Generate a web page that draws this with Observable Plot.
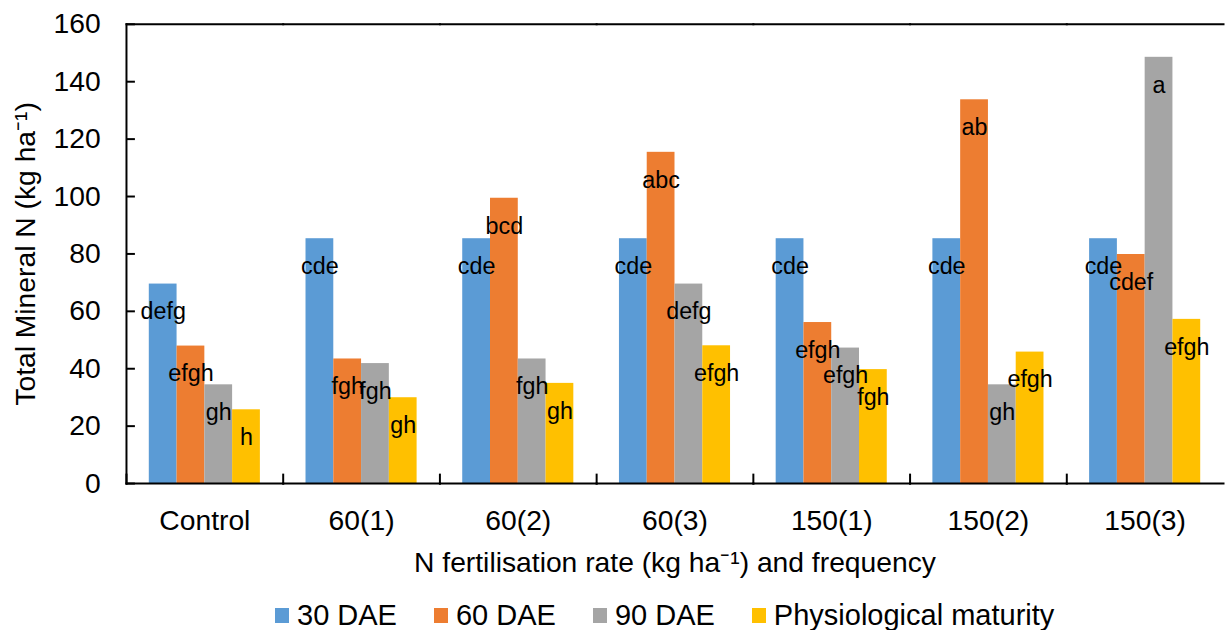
<!DOCTYPE html>
<html>
<head>
<meta charset="utf-8">
<script src="https://cdn.jsdelivr.net/npm/d3@7"></script>
<script src="https://cdn.jsdelivr.net/npm/@observablehq/plot@0.6"></script>
<style>
  html, body { margin: 0; padding: 0; background: #fff; overflow: hidden; width: 1226px; height: 630px; }
  #wrap { position: relative; width: 1226px; height: 630px; overflow: hidden; }
  #chart { position: absolute; left: 0; top: 0; }
  #legend { position: absolute; left: 275px; top: 599px; }
  .lg-swatch { margin-right: 37px !important; }
  .lg-swatch > svg { margin-right: 8px !important; }
</style>
</head>
<body>
<div id="wrap">
  <div id="chart"></div>
  <div id="legend"></div>
</div>
<script>
const groups = ["Control", "60(1)", "60(2)", "60(3)", "150(1)", "150(2)", "150(3)"];
const seriesNames = ["30 DAE", "60 DAE", "90 DAE", "Physiological maturity"];
const seriesColors = ["#5B9BD5", "#ED7D31", "#A5A5A5", "#FFC000"];

const dae30 = [69.5, 85.3, 85.3, 85.3, 85.3, 85.3, 85.3];
const dae60 = [47.9, 43.4, 99.4, 115.4, 56.1, 133.7, 79.8];
const dae90 = [34.4, 41.8, 43.4, 69.5, 47.2, 34.4, 148.5];
const maturity = [25.7, 29.9, 34.9, 48.0, 39.7, 45.8, 57.2];

const letters30 = ["defg", "cde", "cde", "cde", "cde", "cde", "cde"];
const letters60 = ["efgh", "fgh", "bcd", "abc", "efgh", "ab", "cdef"];
const letters90 = ["gh", "fgh", "fgh", "defg", "efgh", "gh", "a"];
const lettersPM = ["h", "gh", "gh", "efgh", "fgh", "efgh", "efgh"];

const yTicks = [0, 20, 40, 60, 80, 100, 120, 140, 160];
const yLabel = "Total Mineral N (kg ha\u207B\u00B9)";
const xLabel = "N fertilisation rate (kg ha\u207B\u00B9) and frequency";

const valueLists = [dae30, dae60, dae90, maturity];
const letterLists = [letters30, letters60, letters90, lettersPM];
const rows = groups.flatMap((g, i) => seriesNames.map((s, j) => ({
  group: g, series: s, value: valueLists[j][i], letter: letterLists[j][i]
})));

const font = "'Liberation Sans', Arial, Helvetica, sans-serif";
const W = 1236, H = 592;

const chart = Plot.plot({
  width: W,
  height: H,
  marginLeft: 124,
  marginRight: 0,
  marginTop: 24,
  marginBottom: H - 487,
  style: {fontFamily: font, fontSize: "28px", color: "#000", background: "#fff", overflow: "visible"},
  fx: {domain: groups, padding: 0, label: xLabel},
  x: {domain: seriesNames, paddingInner: 0, paddingOuter: 0.74, axis: null},
  y: {domain: [0, 160], label: yLabel},
  color: {domain: seriesNames, range: seriesColors},
  marks: [
    Plot.barY(rows, {fx: "group", x: "series", y: "value", fill: "series"}),
    Plot.text(rows, {fx: "group", x: "series", y: "value", text: "letter", lineAnchor: "top", dy: 19, fontSize: 23.5, fill: "#000"}),
    Plot.frame({anchor: "top", stroke: "#000", strokeWidth: 2}),
    Plot.frame({anchor: "bottom", stroke: "#000", strokeWidth: 2}),
    Plot.frame({anchor: "left", facetAnchor: "left", stroke: "#000", strokeWidth: 2}),
    Plot.frame({anchor: "left", insetTop: 454, stroke: "#000", strokeWidth: 2}),
    Plot.axisY({ticks: yTicks, tickSize: -9, tickPadding: 35, strokeWidth: 2, stroke: "#000",
      label: yLabel, labelAnchor: "center", labelOffset: 112, labelArrow: "none", fontSize: 28.5}),
    Plot.axisFx({anchor: "bottom", tickSize: 0, tickPadding: 27, label: xLabel, labelAnchor: "center",
      labelOffset: 89, labelArrow: "none", fontSize: 28.5})
  ]
});
document.getElementById("chart").appendChild(chart);

const legend = Plot.legend({
  color: {type: "ordinal", domain: seriesNames, range: seriesColors},
  legend: "swatches",
  swatchWidth: 14,
  swatchHeight: 15,
  className: "lg",
  style: {fontFamily: font, fontSize: "29px", color: "#000"}
});
document.getElementById("legend").appendChild(legend);
</script>
</body>
</html>
